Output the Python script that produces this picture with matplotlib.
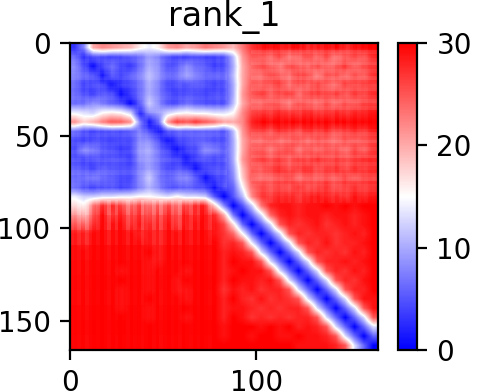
import numpy as np
import matplotlib
matplotlib.use("Agg")
import matplotlib.pyplot as plt

# predicted error, one value every 5 residues
pae_rows = [
    [3, 8, 20, 22, 21, 20, 19, 16, 14, 16, 21, 22, 20, 21, 23, 22, 21, 19, 23, 27, 29, 30, 29, 29, 30, 28, 29, 29, 30, 28, 29, 30, 30],
    [6, 2, 4, 4, 3, 4, 5, 6, 9, 7, 4, 3, 3, 4, 3, 3, 4, 11, 21, 25, 25, 24, 26, 23, 24, 26, 24, 26, 23, 25, 26, 25, 28],
    [8, 4, 0, 4, 6, 4, 3, 6, 10, 8, 4, 5, 8, 6, 5, 3, 4, 10, 20, 24, 26, 25, 23, 26, 25, 24, 26, 24, 25, 27, 24, 26, 27],
    [7, 5, 4, 0, 4, 3, 5, 7, 11, 8, 5, 6, 9, 7, 5, 5, 5, 11, 20, 24, 24, 27, 25, 24, 27, 26, 23, 26, 26, 24, 26, 25, 28],
    [6, 3, 4, 4, 0, 3, 4, 6, 10, 7, 3, 4, 4, 5, 4, 3, 4, 10, 20, 25, 25, 26, 27, 24, 26, 25, 27, 25, 24, 27, 26, 27, 27],
    [6, 4, 3, 5, 4, 0, 3, 6, 10, 7, 4, 3, 4, 4, 3, 4, 4, 10, 21, 25, 27, 25, 26, 27, 24, 26, 27, 26, 27, 25, 27, 26, 28],
    [6, 6, 8, 7, 5, 4, 0, 5, 12, 8, 4, 4, 6, 5, 4, 4, 4, 11, 20, 24, 24, 26, 25, 23, 26, 25, 24, 26, 24, 26, 25, 27, 27],
    [14, 13, 12, 15, 16, 15, 12, 1, 8, 9, 12, 14, 15, 14, 14, 13, 13, 15, 22, 26, 27, 27, 28, 27, 27, 28, 27, 27, 28, 27, 28, 28, 29],
    [22, 18, 20, 23, 26, 25, 22, 7, 0, 5, 22, 28, 26, 28, 26, 24, 21, 20, 22, 28, 30, 30, 30, 30, 30, 30, 30, 30, 30, 30, 30, 30, 30],
    [6, 4, 3, 4, 4, 4, 5, 7, 4, 0, 4, 5, 5, 5, 5, 5, 4, 11, 21, 26, 27, 26, 28, 27, 26, 28, 27, 28, 26, 27, 28, 27, 29],
    [4, 3, 4, 4, 3, 4, 4, 8, 8, 4, 0, 3, 4, 5, 5, 4, 4, 10, 20, 24, 24, 26, 24, 25, 26, 24, 26, 25, 24, 26, 25, 26, 27],
    [4, 8, 7, 5, 4, 3, 4, 9, 10, 6, 3, 0, 3, 4, 8, 7, 5, 10, 20, 25, 26, 24, 26, 27, 24, 26, 25, 26, 26, 24, 27, 25, 28],
    [4, 3, 4, 4, 4, 4, 3, 8, 9, 6, 4, 3, 0, 3, 4, 3, 4, 10, 21, 25, 27, 26, 27, 25, 27, 26, 28, 26, 27, 26, 27, 28, 28],
    [5, 4, 3, 5, 4, 4, 4, 7, 9, 6, 3, 4, 3, 0, 3, 4, 4, 9, 19, 25, 25, 27, 28, 26, 27, 28, 26, 27, 28, 26, 28, 27, 28],
    [6, 6, 7, 6, 5, 4, 4, 8, 12, 7, 5, 7, 8, 5, 0, 3, 4, 8, 18, 25, 24, 25, 26, 27, 24, 26, 25, 26, 25, 27, 25, 27, 27],
    [6, 4, 3, 4, 4, 3, 4, 7, 10, 7, 4, 4, 5, 4, 3, 0, 4, 6, 15, 24, 27, 26, 27, 26, 28, 26, 27, 28, 26, 27, 28, 27, 28],
    [14, 12, 12, 13, 13, 14, 14, 15, 15, 14, 13, 15, 13, 13, 12, 5, 0, 5, 11, 22, 27, 27, 28, 28, 27, 28, 29, 28, 28, 27, 29, 28, 29],
    [18, 16, 24, 28, 29, 27, 25, 28, 24, 26, 27, 25, 28, 29, 29, 18, 8, 0, 5, 12, 23, 28, 29, 29, 28, 29, 29, 30, 29, 30, 29, 30, 30],
    [23, 20, 26, 30, 28, 29, 27, 29, 26, 28, 29, 27, 30, 29, 30, 28, 20, 7, 0, 6, 13, 24, 28, 29, 28, 29, 29, 28, 29, 29, 28, 29, 30],
    [27, 25, 28, 30, 30, 30, 28, 30, 28, 29, 30, 28, 30, 30, 30, 29, 26, 17, 6, 0, 6, 13, 25, 28, 27, 28, 29, 27, 28, 29, 28, 29, 30],
    [30, 29, 30, 30, 30, 30, 30, 29, 29, 29, 30, 30, 30, 30, 30, 29, 27, 24, 15, 6, 0, 6, 13, 25, 28, 27, 28, 28, 27, 28, 29, 28, 30],
    [30, 29, 30, 30, 30, 30, 30, 30, 29, 29, 30, 30, 30, 30, 30, 30, 27, 28, 25, 14, 6, 0, 6, 13, 25, 28, 27, 29, 27, 28, 28, 29, 30],
    [30, 30, 30, 30, 30, 30, 30, 30, 30, 29, 30, 30, 30, 30, 30, 30, 28, 29, 28, 25, 13, 6, 0, 6, 13, 25, 28, 27, 28, 27, 29, 28, 30],
    [30, 30, 30, 30, 30, 30, 30, 30, 29, 29, 30, 30, 30, 30, 30, 30, 28, 30, 29, 29, 25, 13, 6, 0, 6, 13, 25, 28, 28, 29, 28, 29, 30],
    [30, 30, 30, 30, 30, 29, 30, 30, 29, 30, 30, 30, 29, 30, 30, 30, 28, 29, 30, 29, 29, 25, 13, 6, 0, 6, 13, 25, 28, 27, 29, 28, 30],
    [30, 30, 30, 30, 30, 30, 30, 30, 29, 30, 30, 29, 30, 30, 30, 30, 28, 30, 29, 29, 28, 29, 25, 13, 6, 0, 6, 13, 25, 28, 27, 29, 30],
    [30, 30, 30, 30, 30, 29, 30, 30, 29, 30, 30, 29, 29, 30, 30, 30, 27, 29, 28, 29, 27, 28, 28, 25, 13, 6, 0, 6, 13, 25, 28, 28, 30],
    [30, 30, 30, 30, 30, 29, 30, 30, 30, 30, 30, 30, 29, 30, 30, 30, 28, 30, 28, 27, 29, 27, 28, 27, 25, 13, 6, 0, 6, 13, 25, 29, 29],
    [30, 30, 30, 30, 30, 29, 30, 30, 29, 30, 30, 30, 30, 30, 30, 30, 28, 29, 29, 28, 27, 28, 27, 28, 28, 25, 13, 6, 0, 6, 13, 25, 29],
    [30, 30, 30, 30, 30, 30, 30, 30, 29, 30, 30, 30, 29, 30, 30, 30, 28, 30, 29, 27, 28, 27, 28, 27, 28, 28, 25, 13, 6, 0, 6, 13, 25],
    [30, 30, 30, 30, 30, 30, 30, 30, 30, 30, 30, 30, 30, 30, 30, 30, 29, 30, 30, 30, 29, 30, 29, 30, 28, 29, 28, 25, 13, 6, 0, 6, 13],
    [30, 30, 30, 30, 30, 30, 30, 30, 30, 30, 30, 30, 30, 30, 30, 30, 29, 30, 30, 29, 30, 30, 29, 29, 30, 29, 29, 28, 25, 13, 6, 0, 6],
    [30, 30, 30, 30, 30, 30, 30, 30, 30, 30, 30, 30, 30, 30, 30, 30, 30, 30, 30, 30, 30, 30, 30, 30, 29, 29, 29, 29, 28, 25, 13, 6, 0],
]
# paleness of the fine stripes (percent), one value every 2 residues or so
upper_right_rows = [0, 0, 11, 3, 7, 12, 1, 8, 5, 13, 2, 9, 11, 2, 6, 13, 4, 10, 0, 0, 0, 0, 0, 5, 12, 7, 14, 4, 11, 6, 13, 2, 10, 5, 0, 8, 12, 1, 7, 8, 3, 0, 0]
upper_right_cols = [0, 1, 4, 0, 5, 8, 2, 0, 6, 3, 7, 0, 4, 8, 1, 5, 0, 7, 2, 6, 0, 4, 8, 1, 5, 0, 6, 3, 0, 5, 2, 4, 0, 2, 1]
lower_left_cols = [30, 22, 35, 12, 40, 20, 8, 18, 4, 16, 32, 10, 24, 6, 14, 30, 8, 22, 12, 34, 16, 6, 28, 10, 36, 20, 8, 26, 14, 32, 6, 18, 28, 10, 20, 4, 14, 24, 6, 0]
lower_left_fade = [100, 70, 40, 20, 15, 12, 15, 10, 8, 10]
block_rows = [0, 4, 7, 2, 5, 9, 11, 3, 6, 2, 5, 8, 3, 6, 10, 2, 4, 7, 0, 5, 9, 3, 6, 2, 8, 4, 10, 3, 6, 11, 3, 5, 8, 2]
block_cols = [5, 2, 6, 3, 8, 2, 4, 7, 1, 5, 3, 6, 4, 0, 3, 0, 2, 0, 6, 2, 7, 3, 5, 8, 2, 5, 7, 2, 4, 8, 3, 5, 6, 2, 4, 6, 3, 5, 3, 7, 2, 4]
n_residues = 165.5
x_ticks = [0, 100]
y_ticks = [0, 50, 100, 150]
cbar_ticks = [0, 10, 20, 30]


def pale_stripes(ax, pale, extent):
    # white overlay, pale is a 2d array of percent opacity
    pale = np.asarray(pale, dtype=float)
    layer = np.ones(pale.shape + (4,))
    layer[..., 3] = pale / 100
    ax.imshow(layer, aspect="auto", interpolation="nearest", extent=extent)


W, H = 478, 392
fig = plt.figure(figsize=(W / 200, H / 200), dpi=200)
ax = fig.add_axes((70 / W, 1 - 350 / H, 308 / W, 307 / H))
cax = fig.add_axes((398 / W, 1 - 350 / H, 19 / W, 307 / H))

im = ax.imshow(np.array(pae_rows), cmap="bwr", vmin=0, vmax=30, aspect="auto",
               interpolation="bilinear",
               extent=(0, n_residues, n_residues, 0))

pale_stripes(ax, np.array(upper_right_rows)[:, None], (97, 165.5, 86, 0))
pale_stripes(ax, np.array(upper_right_cols)[None, :], (97, 165.5, 86, 0))
pale_stripes(ax, np.outer(lower_left_fade, lower_left_cols) / 100,
             (0, 80, 165.5, 85))
pale_stripes(ax, np.array(block_rows)[:, None], (0, 84, 80, 5))
pale_stripes(ax, np.array(block_cols)[None, :], (0, 84, 80, 5))

ax.set_xlim(0, n_residues)
ax.set_ylim(n_residues, 0)
ax.set_xticks(x_ticks)
ax.set_yticks(y_ticks)
ax.set_title("rank_1", fontsize=12)

cb = fig.colorbar(im, cax=cax)
cb.set_ticks(cbar_ticks)

fig.savefig("out.png", dpi=200)
